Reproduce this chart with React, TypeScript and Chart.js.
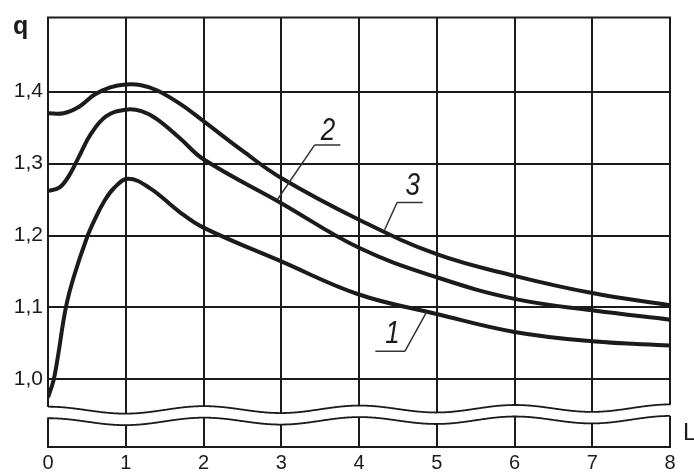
import React, { useEffect, useRef } from "react";
import { Chart, registerables } from "chart.js";

Chart.register(...registerables);

// ---- data ----
const X_TICKS = [0, 1, 2, 3, 4, 5, 6, 7, 8];
const Y_TICKS = [1.0, 1.1, 1.2, 1.3, 1.4];

const CURVE1_X = [0, 0.07, 0.12, 0.23, 0.33, 0.5, 0.6, 0.72, 0.85, 1.03, 1.31, 1.69, 2.0, 3, 4, 5, 6, 7, 8];
const CURVE1_Q = [0.975, 0.998, 1.027, 1.1, 1.142, 1.197, 1.222, 1.247, 1.266, 1.279, 1.266, 1.233, 1.211, 1.164, 1.118, 1.091, 1.066, 1.053, 1.047];

const CURVE2_X = [0, 0.15, 0.28, 0.4, 0.55, 0.75, 1.0, 1.2, 1.4, 1.7, 2.0, 3, 4, 5, 6, 7, 8];
const CURVE2_Q = [1.262, 1.267, 1.285, 1.31, 1.341, 1.366, 1.375, 1.373, 1.362, 1.335, 1.306, 1.245, 1.183, 1.142, 1.112, 1.096, 1.083];

const CURVE3_X = [0, 0.2, 0.4, 0.6, 0.8, 1.0, 1.2, 1.4, 1.7, 2.0, 2.5, 3, 4, 5, 6, 7, 8];
const CURVE3_Q = [1.37, 1.37, 1.379, 1.396, 1.406, 1.41, 1.409, 1.402, 1.383, 1.359, 1.318, 1.28, 1.222, 1.174, 1.144, 1.12, 1.103];

const Y_MIN = 0.906;
const Y_MAX = 1.503;

// axis break (wavy lines), in data units
const BREAK_UPPER = 0.957;
const BREAK_LOWER = 0.941;
const BREAK_TILT = 0.0004;

// curve labels: [text, labelX, labelQ, underlineFromX, underlineToX, underlineQ, leaderFromX, leaderToX, leaderToQ]
const CURVE_LABELS: [string, number, number, number, number, number, number, number, number][] = [
  ["1", 4.43, 1.062, 4.21, 4.59, 1.039, 4.59, 4.87, 1.094],
  ["2", 3.6, 1.345, 3.43, 3.76, 1.326, 3.43, 2.945, 1.249],
  ["3", 4.69, 1.268, 4.49, 4.82, 1.246, 4.49, 4.33, 1.208],
];

const INK = "#1b1b1b";
const FONT = "'Liberation Sans', Arial, sans-serif";

const toPoints = (xs: number[], qs: number[]) => xs.map((x, i) => ({ x, y: qs[i] }));

const decorPlugin = {
  id: "decor",
  beforeDatasetsDraw(chart: any) {
    const { ctx, chartArea, scales } = chart;
    const xs = scales.x;
    const ys = scales.y;
    ctx.save();
    ctx.strokeStyle = INK;
    ctx.lineWidth = 2;
    // top & bottom frame
    ctx.beginPath();
    ctx.moveTo(chartArea.left - 1, chartArea.top);
    ctx.lineTo(chartArea.right + 1, chartArea.top);
    ctx.moveTo(chartArea.left - 1, chartArea.bottom);
    ctx.lineTo(chartArea.right + 1, chartArea.bottom);
    ctx.stroke();

    const amp = 3.6;
    const wave = (base: number) => {
      const pts: [number, number][] = [];
      for (let i = -4; i <= 804; i++) {
        const x = i / 100;
        const px = xs.getPixelForValue(x);
        const py = ys.getPixelForValue(base + BREAK_TILT * x) - amp * Math.cos(Math.PI * x);
        pts.push([px, py]);
      }
      return pts;
    };
    const up = wave(BREAK_UPPER);
    const lo = wave(BREAK_LOWER);
    ctx.fillStyle = "#ffffff";
    ctx.beginPath();
    up.forEach(([px, py], i) => (i ? ctx.lineTo(px, py) : ctx.moveTo(px, py)));
    for (let i = lo.length - 1; i >= 0; i--) ctx.lineTo(lo[i][0], lo[i][1]);
    ctx.closePath();
    ctx.fill();
    ctx.lineWidth = 1.8;
    const strokeWave = (pts: [number, number][]) => {
      ctx.beginPath();
      pts.forEach(([px, py], i) => {
        const cx = Math.min(Math.max(px, chartArea.left), chartArea.right);
        i ? ctx.lineTo(cx, py) : ctx.moveTo(cx, py);
      });
      ctx.stroke();
    };
    strokeWave(up);
    strokeWave(lo);

    // axis names
    ctx.fillStyle = INK;
    ctx.font = `bold 25px ${FONT}`;
    ctx.textAlign = "left";
    ctx.textBaseline = "alphabetic";
    ctx.fillText("q", chartArea.left - 35, chartArea.top + 16);
    ctx.font = `24px ${FONT}`;
    ctx.fillText("L", chartArea.right + 13, chartArea.bottom - 7);
    ctx.restore();
  },
  afterDatasetsDraw(chart: any) {
    const { ctx, scales } = chart;
    const xs = scales.x;
    const ys = scales.y;
    ctx.save();
    ctx.strokeStyle = "#333";
    ctx.lineWidth = 1.5;
    ctx.fillStyle = INK;
    ctx.font = `italic 26px ${FONT}`;
    ctx.textAlign = "center";
    ctx.textBaseline = "middle";
    CURVE_LABELS.forEach(([t, lx, lq, u0, u1, uq, f0, tx, tq]) => {
      ctx.beginPath();
      ctx.moveTo(xs.getPixelForValue(u0), ys.getPixelForValue(uq));
      ctx.lineTo(xs.getPixelForValue(u1), ys.getPixelForValue(uq));
      ctx.moveTo(xs.getPixelForValue(f0), ys.getPixelForValue(uq));
      ctx.lineTo(xs.getPixelForValue(tx), ys.getPixelForValue(tq));
      ctx.stroke();
      const px = xs.getPixelForValue(lx);
      const py = ys.getPixelForValue(lq);
      ctx.save();
      ctx.translate(px, py);
      ctx.scale(1, 1.2);
      ctx.fillText(t, 0, 0);
      ctx.restore();
    });
    ctx.restore();
  },
};

export default function App() {
  const ref = useRef<HTMLCanvasElement | null>(null);
  useEffect(() => {
    if (!ref.current) return;
    const ds = (xs: number[], qs: number[]) => ({
      data: toPoints(xs, qs),
      borderColor: INK,
      borderWidth: 4,
      pointRadius: 0,
      fill: false,
      tension: 0.4,
    });
    const chart = new Chart(ref.current, {
      type: "line",
      data: {
        datasets: [ds(CURVE1_X, CURVE1_Q), ds(CURVE2_X, CURVE2_Q), ds(CURVE3_X, CURVE3_Q)],
      },
      options: {
        responsive: false,
        animation: false,
        layout: { padding: { top: 14, right: 24, left: 0, bottom: 0 } },
        plugins: { legend: { display: false }, tooltip: { enabled: false } },
        scales: {
          x: {
            type: "linear",
            min: 0,
            max: 8,
            afterBuildTicks: (s: any) => {
              s.ticks = X_TICKS.map((v) => ({ value: v }));
            },
            afterFit: (s: any) => {
              s.height = 26;
            },
            grid: { color: INK, lineWidth: 2, drawTicks: false },
            border: { display: false },
            ticks: {
              padding: 4,
              color: INK,
              font: { family: FONT, size: 20 },
              maxRotation: 0,
              callback: (v: any) => String(v),
            },
          },
          y: {
            type: "linear",
            min: Y_MIN,
            max: Y_MAX,
            afterBuildTicks: (s: any) => {
              s.ticks = Y_TICKS.map((v) => ({ value: v }));
            },
            afterFit: (s: any) => {
              s.width = 48;
            },
            grid: { color: INK, lineWidth: 2, drawTicks: false },
            border: { display: false },
            ticks: {
              padding: 5,
              color: INK,
              font: { family: FONT, size: 21 },
              callback: (v: any) => Number(v).toFixed(1).replace(".", ","),
            },
          },
        },
      },
      plugins: [decorPlugin],
    });
    return () => chart.destroy();
  }, []);
  return (
    <div style={{ position: "absolute", left: 0, top: 0, width: 694, height: 473, background: "#fff" }}>
      <canvas ref={ref} width={694} height={473} style={{ display: "block" }} />
    </div>
  );
}
